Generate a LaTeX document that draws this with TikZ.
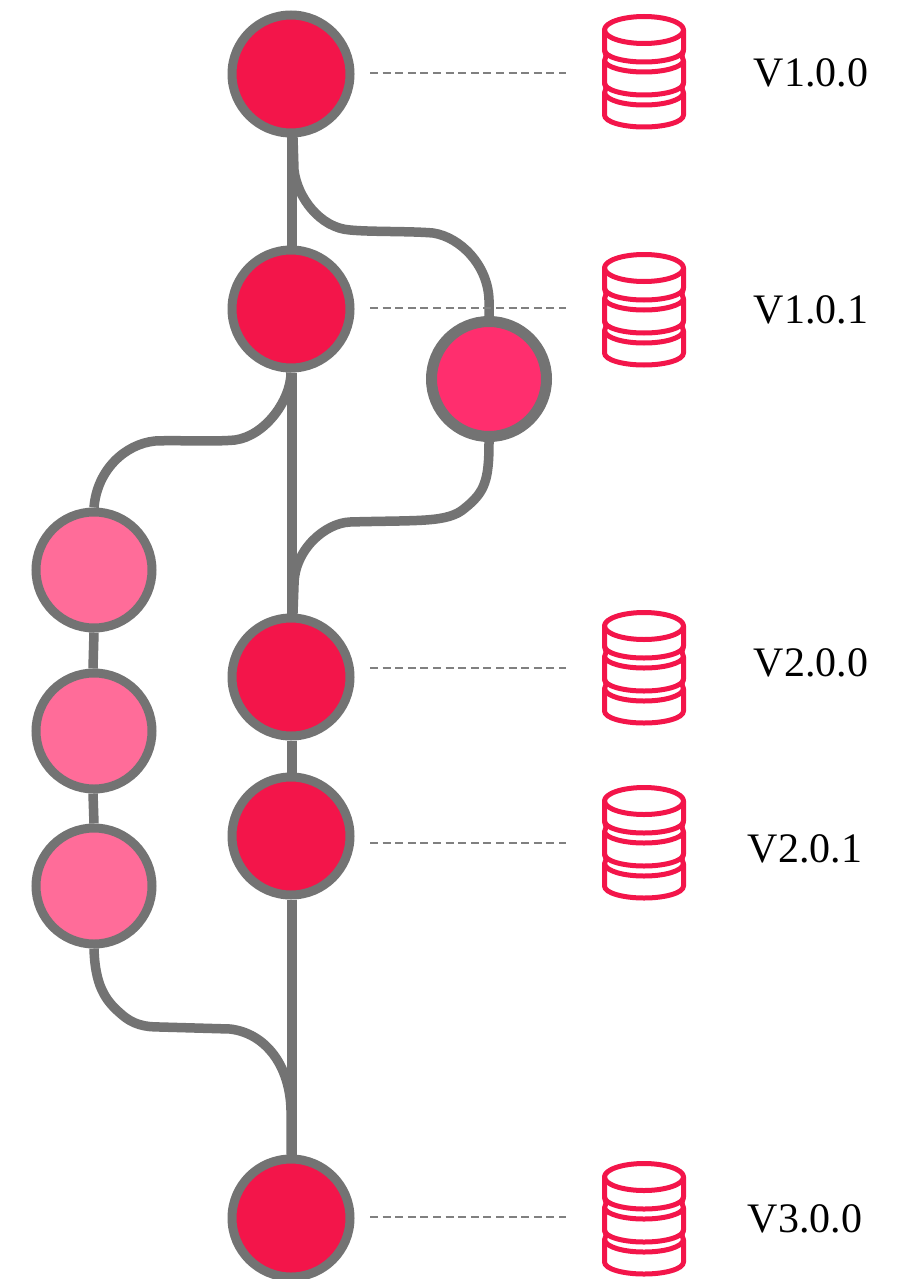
\documentclass[tikz,border=0pt]{standalone}
\usepackage{fontspec}
\setmainfont{Liberation Serif}
\usetikzlibrary{backgrounds}
\definecolor{ringgray}{HTML}{737373}
\definecolor{mainred}{HTML}{F3154A}
\definecolor{hotpink}{HTML}{FF2E6E}
\definecolor{softpink}{HTML}{FF6C99}
\definecolor{dashgray}{HTML}{808080}
\tikzset{
  x=1pt,y=-1pt,
  mainnode/.style={circle,draw=ringgray,fill=mainred,line width=9pt,minimum size=118pt,inner sep=0pt},
  hotnode/.style={circle,draw=ringgray,fill=hotpink,line width=11pt,minimum size=115pt,inner sep=0pt},
  softnode/.style={circle,draw=ringgray,fill=softpink,line width=9pt,minimum size=116pt,inner sep=0pt},
  branch/.style={draw=ringgray,line width=9.5pt},
  guide/.style={draw=dashgray,line width=2.3pt,dash pattern=on 8pt off 4.6pt},
  verlabel/.style={font=\fontsize{42pt}{44pt}\selectfont,text=black,inner sep=0pt},
  dbline/.style={draw=mainred,line width=5pt,line join=round,line cap=round,fill=none},
  pics/dbstack/.style={code={
    \draw[dbline] (0,0) ellipse [x radius=39.5pt,y radius=13.5pt];
    \draw[dbline] (-39.5,0) -- (-39.5,20) .. controls (-39.5,27) and (-21,32) .. (0,32) .. controls (21,32) and (39.5,27) .. (39.5,20) -- (39.5,0);
    \draw[dbline] (-39.5,20) -- (-38,26) -- (-39.5,31) -- (-39.5,53) .. controls (-39.5,60) and (-21,65) .. (0,65) .. controls (21,65) and (39.5,60) .. (39.5,53) -- (39.5,31) -- (38,26) -- (39.5,20);
    \draw[dbline] (-39.5,31) .. controls (-38,37) and (-21,42) .. (0,42) .. controls (21,42) and (38,37) .. (39.5,31);
    \draw[dbline] (-39.5,53) -- (-38,58) -- (-39.5,63) -- (-39.5,85) .. controls (-39.5,92) and (-21,97) .. (0,97) .. controls (21,97) and (39.5,92) .. (39.5,85) -- (39.5,63) -- (38,58) -- (39.5,53);
    \draw[dbline] (-39.5,63) .. controls (-38,70) and (-21,75) .. (0,75) .. controls (21,75) and (38,70) .. (39.5,63);
  }}
}
\begin{document}
\begin{tikzpicture}
\useasboundingbox (0,0) rectangle (910,1279);
% commit nodes
\node[mainnode] (c1) at (291,74) {};
\node[mainnode] (c2) at (291,309) {};
\node[hotnode]  (h1) at (489,379) {};
\node[softnode] (s1) at (94,570) {};
\node[softnode] (s2) at (94,731) {};
\node[softnode] (s3) at (94,886) {};
\node[mainnode] (c3) at (291,677) {};
\node[mainnode] (c4) at (291,836) {};
\node[mainnode] (c5) at (291,1218) {};
% guide end points
\foreach \n/\y in {1/73,2/308,3/668,4/843,5/1217}{
  \coordinate (gs\n) at (370,\y);
  \coordinate (ge\n) at (566,\y);
}
% databases
\foreach \n/\y in {1/30,2/268,3/626,4/801,5/1177}{
  \pic at (644,\y) {dbstack};
}
% version labels
\node[verlabel] (v1) at (811,73) {V1.0.0};
\node[verlabel] (v2) at (811,310) {V1.0.1};
\node[verlabel] (v3) at (811,663) {V2.0.0};
\node[verlabel] (v4) at (805,849) {V2.0.1};
\node[verlabel] (v5) at (805,1219) {V3.0.0};
\begin{scope}[on background layer]
  \fill[white] (0,0) rectangle (910,1279);
  \path[branch] ([xshift=1pt]c1.south) -- ([xshift=1pt]c2.north);
  \path[branch] ([xshift=1pt]c2.south) -- ([xshift=1pt]c3.north);
  \path[branch] ([xshift=1pt]c3.south) -- ([xshift=1pt]c4.north);
  \path[branch] ([xshift=1pt]c4.south) -- ([xshift=1pt]c5.north);
  \path[branch] (s1.south) -- ([xshift=-1pt]s2.north);
  \path[branch] ([xshift=-1pt]s2.south) -- (s3.north);
  \path[branch] ([xshift=2pt]c1.south) -- (294,170) .. controls (297,197) and (320,228) .. (350,230) .. controls (370,232) and (410,231) .. (433,233) .. controls (460,237) and (488,265) .. (489,300) -- (h1.north);
  \path[branch] (c2.south) .. controls (291,400) and (265,436) .. (235,440) .. controls (215,442) and (175,440) .. (155,441) .. controls (125,444) and (97,470) .. (s1.north);
  \path[branch] (h1.south) .. controls (489,480) and (485,492) .. (465,508) .. controls (448,523) and (420,520) .. (350,522) .. controls (325,523) and (294,550) .. (294,585) -- ([xshift=2pt]c3.north);
  \path[branch] (s3.south) .. controls (95,985) and (105,1000) .. (120,1013) .. controls (133,1025) and (145,1027) .. (160,1027) -- (230,1029) .. controls (265,1033) and (290,1065) .. (291,1110) -- (c5.north);
\end{scope}
\foreach \n in {1,...,5}{
  \path[guide] (gs\n) -- (ge\n);
}
\end{tikzpicture}
\end{document}
